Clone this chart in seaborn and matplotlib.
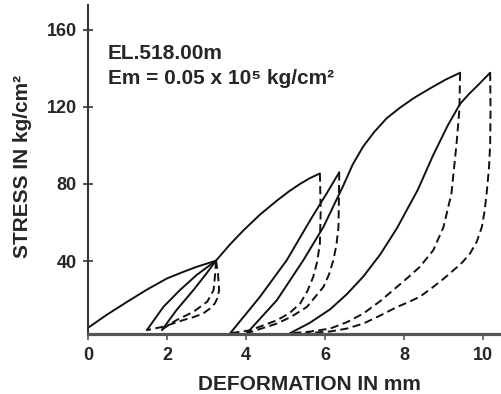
import matplotlib
matplotlib.use("Agg")
import matplotlib.pyplot as plt
import seaborn as sns
import pandas as pd

# ---- data (deformation mm, stress kg/cm2) ----
load1_x = [0.0, 0.5, 1.0, 1.5, 2.0, 2.4, 2.75, 3.24]
load1_y = [5.4, 12.5, 19.0, 25.3, 31.0, 34.3, 37.0, 40.2]

unload1_x = [3.24, 3.29, 3.32, 3.28, 3.21, 3.08, 2.92, 2.68, 2.41, 1.91, 1.49]
unload1_y = [40.2, 33.6, 25.0, 21.0, 18.0, 15.3, 12.9, 11.0, 9.4, 6.0, 4.2]

reload1_x = [1.49, 1.91, 2.33, 2.75, 3.24]
reload1_y = [4.2, 16.3, 25.0, 32.8, 40.2]

unload2_x = [3.24, 3.22, 3.18, 3.02, 2.67, 2.24, 1.87]
unload2_y = [40.2, 33.6, 25.0, 19.0, 13.7, 9.4, 4.5]

reload2_x = [1.87, 2.24, 2.67, 3.0, 3.24, 3.58, 3.93, 4.35, 4.78, 5.1, 5.37, 5.62, 5.87]
reload2_y = [4.2, 14.6, 25.0, 33.6, 40.2, 48.3, 55.8, 64.0, 71.3, 76.3, 80.0, 83.0, 85.4]

unload3_x = [5.87, 5.89, 5.87, 5.8, 5.7, 5.55, 5.37, 5.1, 4.78, 4.1, 3.6]
unload3_y = [85.4, 66.0, 49.0, 39.5, 31.7, 24.3, 18.0, 13.0, 9.3, 4.1, 2.6]

reload3_x = [3.6, 4.35, 5.03, 5.62, 6.04, 6.36]
reload3_y = [2.6, 21.4, 40.4, 61.0, 75.0, 86.0]

unload4_x = [6.36, 6.35, 6.34, 6.29, 6.21, 6.1, 5.96, 5.54, 5.15, 4.78, 4.02]
unload4_y = [86.0, 70.0, 57.7, 48.5, 40.4, 33.0, 26.6, 16.2, 11.2, 7.6, 2.6]

reload4_x = [4.02, 4.78, 5.45, 5.96, 6.46, 6.7, 6.97, 7.25, 7.56, 7.9, 8.25, 8.66, 9.05, 9.42]
reload4_y = [2.6, 19.7, 40.4, 57.7, 79.0, 90.0, 99.5, 107.0, 114.0, 119.5, 124.5, 129.5, 134.0, 137.6]

unload5_x = [9.42, 9.41, 9.4, 9.33, 9.2, 9.0, 8.74, 8.4, 8.1, 7.82, 7.4, 6.97, 6.55, 6.13, 5.6, 5.11]
unload5_y = [137.6, 128.0, 118.0, 101.0, 75.0, 57.7, 45.6, 37.0, 31.5, 26.6, 19.3, 12.8, 8.3, 5.0, 3.4, 2.6]

reload5_x = [5.11, 5.6, 6.13, 6.55, 6.97, 7.4, 7.82, 8.35, 8.74, 9.1, 9.42, 9.64, 9.84, 10.18]
reload5_y = [2.6, 7.8, 15.0, 22.8, 32.0, 43.5, 57.0, 77.0, 95.0, 110.0, 121.5, 126.5, 130.5, 137.6]

unload6_x = [10.18, 10.19, 10.18, 10.15, 10.09, 10.04, 9.97, 9.84, 9.67, 9.47, 9.25,
             9.0, 8.74, 8.4, 8.1, 7.82, 7.4, 6.97, 6.55, 6.13, 5.5]
unload6_y = [137.6, 118.0, 100.6, 88.0, 75.0, 66.0, 57.7, 50.0, 43.9, 39.2, 35.2,
             30.8, 26.6, 21.5, 18.6, 16.2, 11.8, 7.6, 5.0, 3.5, 2.6]

x_ticks = [0, 2, 4, 6, 8, 10]
y_ticks = [40, 80, 120, 160]

curves = [
    ("load1", "loading", load1_x, load1_y),
    ("unload1", "unloading", unload1_x, unload1_y),
    ("reload1", "loading", reload1_x, reload1_y),
    ("unload2", "unloading", unload2_x, unload2_y),
    ("reload2", "loading", reload2_x, reload2_y),
    ("unload3", "unloading", unload3_x, unload3_y),
    ("reload3", "loading", reload3_x, reload3_y),
    ("unload4", "unloading", unload4_x, unload4_y),
    ("reload4", "loading", reload4_x, reload4_y),
    ("unload5", "unloading", unload5_x, unload5_y),
    ("reload5", "loading", reload5_x, reload5_y),
    ("unload6", "unloading", unload6_x, unload6_y),
]

rows = []
for name, kind, xs, ys in curves:
    for i, (xv, yv) in enumerate(zip(xs, ys)):
        rows.append({"curve": name, "kind": kind, "order": i, "x": xv, "y": yv})
df = pd.DataFrame(rows)

sns.set_theme(style="white")
plt.rcParams["font.family"] = ["Liberation Sans", "DejaVu Sans"]
plt.rcParams["font.weight"] = "bold"

fig = plt.figure(figsize=(5.02, 3.94), dpi=100)
ax = fig.add_axes([88 / 502, 60 / 394, 414 / 502, 329 / 394])

lw = 1.4
for name, kind, xs, ys in curves:
    sub = df[df["curve"] == name]
    ls = "-" if kind == "loading" else (0, (4.2, 2.3))
    sns.lineplot(data=sub, x="x", y="y", sort=False, estimator=None,
                 color="#111111", linewidth=lw, linestyle=ls, ax=ax)

ax.set_xlim(0, 10.48)
ax.set_ylim(2.2, 172.7)
ax.set_xticks(x_ticks)
ax.set_yticks(y_ticks)
ax.set_xticklabels([str(v) for v in x_ticks], fontsize=13, fontweight="bold")
ax.set_yticklabels([str(v) for v in y_ticks], fontsize=13, fontweight="bold")

for s in ["top", "right"]:
    ax.spines[s].set_visible(False)
ax.spines["left"].set_color("#333333")
ax.spines["left"].set_linewidth(1.5)
ax.spines["bottom"].set_color("#555555")
ax.spines["bottom"].set_linewidth(2.3)

ax.tick_params(axis="y", direction="inout", length=7, width=1.2, color="#333333", pad=4.5, left=True)
ax.tick_params(axis="x", direction="out", length=4, width=1.2, color="#555555", pad=5, bottom=True)

ax.set_xlabel("DEFORMATION IN mm", fontsize=15, fontweight="bold")
ax.set_ylabel("STRESS IN kg/cm²", fontsize=15, fontweight="bold")
ax.xaxis.set_label_coords(0.536, -0.125)
ax.yaxis.set_label_coords(-0.135, 0.51)

ax.text(0.048, 0.854, "EL.518.00m", transform=ax.transAxes, fontsize=15,
        fontweight="bold", va="center", ha="left")
ax.text(0.048, 0.778, "Em = 0.05 x 10⁵ kg/cm²", transform=ax.transAxes, fontsize=15,
        fontweight="bold", va="center", ha="left")

fig.savefig("out.png", dpi=100, facecolor="white")
